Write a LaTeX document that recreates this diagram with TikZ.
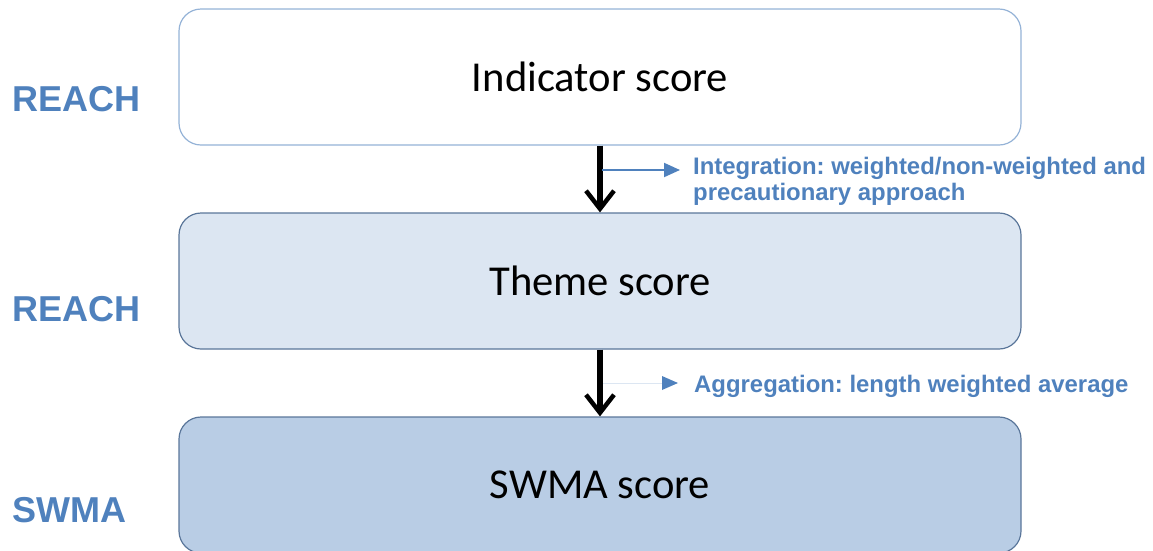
\documentclass[tikz,border=0pt]{standalone}
\usepackage{fontspec}
\setmainfont{Carlito}
\newfontfamily\labelfont{Liberation Sans}
\usetikzlibrary{arrows.meta}
\frenchspacing
\definecolor{accent}{HTML}{4F81BD}
\definecolor{lightedge}{HTML}{95B3D7}
\definecolor{midedge}{HTML}{5A769A}
\definecolor{themefill}{HTML}{DCE6F2}
\definecolor{swmafill}{HTML}{B9CDE5}
\definecolor{faintline}{HTML}{DCE6F2}
\tikzset{
  x=1pt, y=-1pt,
  levelbox/.style={rectangle, rounded corners=22pt, minimum width=842pt,
    minimum height=136pt, line width=1.2pt, font=\fontsize{42.6}{50}\selectfont},
  sidelabel/.style={anchor=west, text=accent, inner sep=0pt,
    font=\labelfont\bfseries\fontsize{36}{42}\selectfont},
  notelabel/.style={anchor=west, text=accent, inner sep=0pt, align=left,
    font=\labelfont\bfseries\fontsize{23.9}{26}\selectfont},
  flowarrow/.style={line width=6pt, -{Straight Barb[length=18pt,width=28pt,line width=4.5pt]}},
  notearrow/.style={line width=2pt, accent, -{Triangle[length=16pt,width=14pt]}},
}
\begin{document}
\begin{tikzpicture}
\useasboundingbox (0,0) rectangle (1153,550);

% the three score levels
\node[levelbox, draw=lightedge, fill=white] (ind) at (600,77) {Indicator score};
\node[levelbox, draw=midedge, fill=themefill] (theme) at (600,281) {Theme score};
\node[levelbox, draw=midedge, fill=swmafill] (swma) at (600,485) {SWMA score};

% level names on the left
\node[sidelabel] (l1) at (12,99) {REACH};
\node[sidelabel] (l2) at (12,309) {REACH};
\node[sidelabel] (l3) at (12,510) {SWMA};

% flow between levels
\draw[flowarrow] (ind.south) -- (theme.north);
\draw[flowarrow] (theme.south) -- (swma.north);

% side notes on the steps
\coordinate (n1s) at (602,170);
\coordinate (n1e) at (680,170);
\draw[notearrow] (n1s) -- (n1e);
\node[notelabel] (n1) at (693,181) {Integration: weighted/non-weighted and\\precautionary approach};

\coordinate (n2s) at (603,383);
\coordinate (n2m) at (662,383);
\coordinate (n2e) at (678,383);
\draw[line width=1pt, faintline] (n2s) -- (n2m);
\draw[notearrow, line width=0pt] (n2m) -- (n2e);
\node[notelabel] (n2) at (694,386) {Aggregation: length weighted average};
\end{tikzpicture}
\end{document}
